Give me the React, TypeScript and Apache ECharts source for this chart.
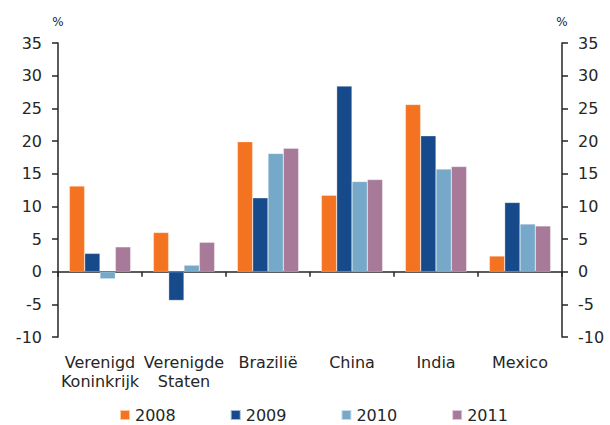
import React, { useEffect, useRef } from "react";
import * as echarts from "echarts";

// Growth figures per country, in percent
const categories = ["Verenigd\nKoninkrijk", "Verenigde\nStaten", "Brazilië", "China", "India", "Mexico"];
const years = ["2008", "2009", "2010", "2011"];
const values2008 = [13.1, 6.0, 19.9, 11.7, 25.6, 2.4];
const values2009 = [2.8, -4.4, 11.3, 28.4, 20.8, 10.6];
const values2010 = [-1.1, 1.0, 18.1, 13.8, 15.7, 7.3];
const values2011 = [3.8, 4.5, 18.9, 14.1, 16.1, 7.0];
const yTicks = { min: -10, max: 35, interval: 5 };

const colors = ["#F47321", "#164A8A", "#76A8C9", "#A67A98"];
const FONT = "DejaVu Sans";
const TEXT = "#262626";
const AXIS = "#262626";

export default function App() {
  const ref = useRef<HTMLDivElement>(null);

  useEffect(() => {
    if (!ref.current) return;
    const chart = echarts.init(ref.current, undefined, { renderer: "svg" });
    const seriesData = [values2008, values2009, values2010, values2011];

    const yAxisCommon = {
      type: "value" as const,
      min: yTicks.min,
      max: yTicks.max,
      interval: yTicks.interval,
      splitLine: { show: false },
      axisLine: { show: true, lineStyle: { color: AXIS, width: 1.5 } },
      axisTick: { show: true, length: 6, lineStyle: { color: AXIS, width: 1.5 } },
      axisLabel: { color: TEXT, fontFamily: FONT, fontSize: 16, margin: 16 },
      name: "%",
      nameLocation: "end" as const,
      nameGap: 15,
      nameTextStyle: { color: TEXT, fontFamily: FONT, fontSize: 12 },
    };

    chart.setOption({
      animation: false,
      color: colors,
      textStyle: { fontFamily: FONT },
      grid: {
        left: 58,
        right: 48,
        top: 43,
        bottom: 88,
        containLabel: false,
        outerBoundsMode: "none",
      },
      legend: {
        data: years,
        left: 119,
        top: 407,
        padding: 0,
        itemWidth: 10,
        itemHeight: 10,
        itemGap: 54,
        icon: "rect",
        textStyle: { color: TEXT, fontFamily: FONT, fontSize: 16 },
      },
      xAxis: {
        type: "category",
        data: categories,
        axisLine: { show: true, onZero: true, lineStyle: { color: AXIS, width: 1.5 } },
        axisTick: { show: true, length: 5, lineStyle: { color: AXIS, width: 1.5 } },
        axisLabel: {
          color: TEXT,
          fontFamily: FONT,
          fontSize: 16,
          lineHeight: 19,
          margin: 16,
          interval: 0,
        },
      },
      yAxis: [
        { ...yAxisCommon, position: "left" },
        { ...yAxisCommon, position: "right" },
      ],
      series: years.map((y, i) => ({
        name: y,
        type: "bar",
        data: seriesData[i],
        barGap: "0%",
        barCategoryGap: "27%",
        itemStyle: { borderColor: "rgba(255,255,255,0.6)", borderWidth: 0.5 },
      })),
    });

    return () => chart.dispose();
  }, []);

  return (
    <div
      ref={ref}
      style={{ position: "absolute", left: 0, top: 0, width: 610, height: 425, background: "#fff" }}
    />
  );
}
